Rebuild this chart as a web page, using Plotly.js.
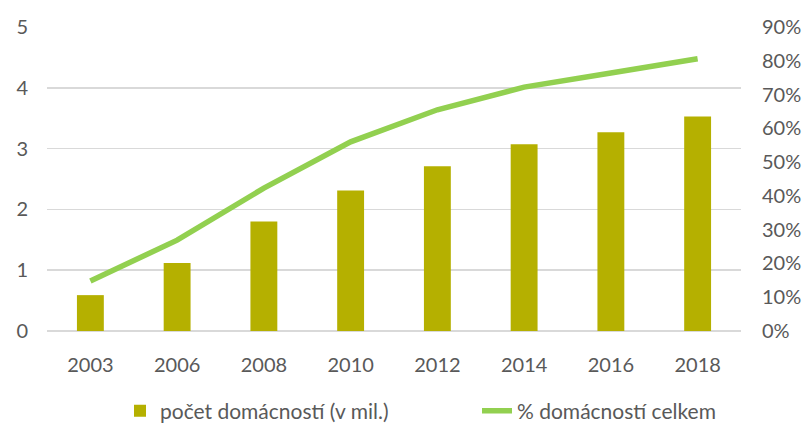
<!DOCTYPE html>
<html>
<head>
<meta charset="utf-8">
<script src="https://cdn.plot.ly/plotly-3.0.1.min.js"></script>
<style>html,body{margin:0;padding:0;background:#fff}#chart{width:806px;height:425px}</style>
</head>
<body>
<div id="chart"></div>
<script>
const years = ["2003","2006","2008","2010","2012","2014","2016","2018"];
const households = [0.59, 1.12, 1.80, 2.31, 2.71, 3.07, 3.27, 3.53];
const sharePct = [0.148, 0.269, 0.423, 0.560, 0.655, 0.722, 0.764, 0.806];
const barName = "počet domácností (v mil.)";
const lineName = "% domácností celkem";

const fam = "Lato, 'Open Sans', sans-serif";
const tickFont = {family: fam, size: 20, color: "#595959"};
const legFont = {family: fam, size: 21, color: "#595959"};

Plotly.newPlot("chart", [
  {type: "bar", x: years, y: households, name: barName, marker: {color: "#B5B000"},
   yaxis: "y", legend: "legend"},
  {type: "scatter", mode: "lines", x: years, y: sharePct, name: lineName,
   line: {color: "#92D050", width: 5.5}, yaxis: "y2", legend: "legend2"}
], {
  width: 806, height: 425,
  margin: {l: 47, r: 65, t: 27, b: 94, autoexpand: false},
  paper_bgcolor: "#fff", plot_bgcolor: "#fff",
  font: tickFont,
  bargap: 0.69,
  showlegend: true,
  legend: {orientation: "h", xref: "container", yref: "container",
           x: 120/806, xanchor: "left", y: 14/425, yanchor: "middle", font: legFont},
  legend2: {orientation: "h", xref: "container", yref: "container",
           x: 477/806, xanchor: "left", y: 14/425, yanchor: "middle", font: legFont},
  xaxis: {type: "category", showgrid: false, zeroline: false, showline: false,
          ticks: "", ticklabelstandoff: 20, tickfont: tickFont, automargin: false},
  yaxis: {range: [0, 5], dtick: 1, showgrid: true, gridcolor: "#D9D9D9", gridwidth: 1.5,
          zeroline: true, zerolinecolor: "#D9D9D9", zerolinewidth: 1.5, showline: false,
          ticks: "", ticklabelstandoff: 18, tickfont: tickFont, automargin: false},
  yaxis2: {range: [0, 0.9], dtick: 0.1, tickformat: ".0%", overlaying: "y", side: "right",
           showgrid: false, zeroline: false, showline: false, ticks: "",
           ticklabelstandoff: 20, tickfont: tickFont, automargin: false}
}, {displayModeBar: false, staticPlot: true});
</script>
</body>
</html>
